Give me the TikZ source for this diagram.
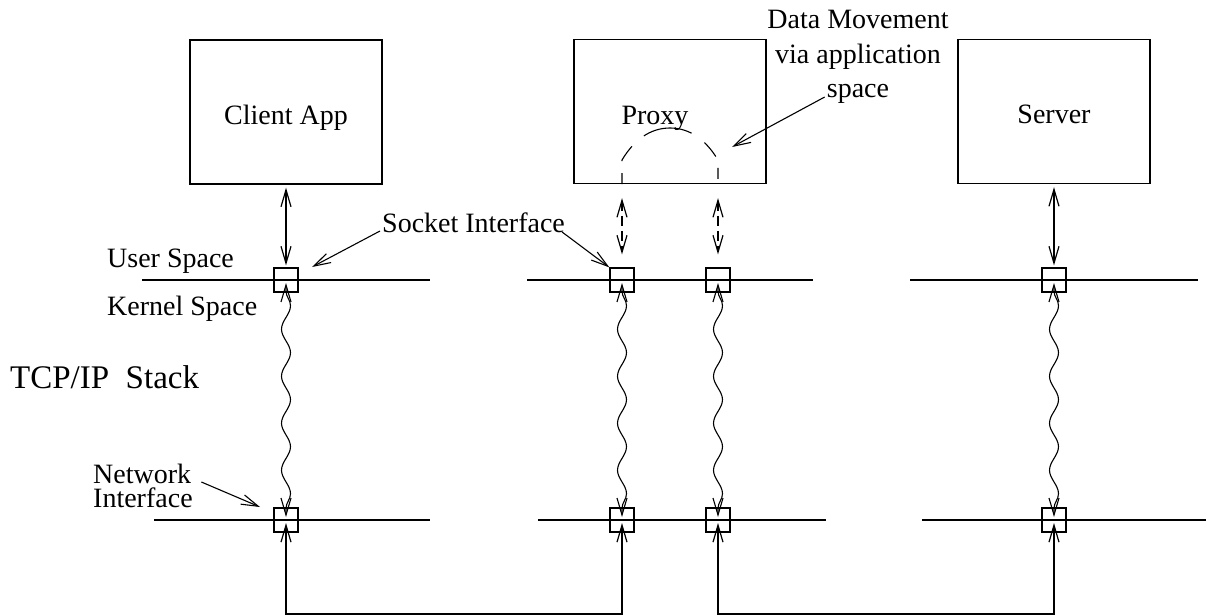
\documentclass[tikz,border=0pt]{standalone}
\usepackage{fontspec}
\setmainfont{Liberation Serif}
\usetikzlibrary{arrows.meta,decorations.pathmorphing}
\begin{document}
\begin{tikzpicture}[x=1pt,y=-1pt,
  >={Straight Barb[length=17pt,width=10pt]},
  lbl/.style={font=\fontsize{28}{28}\selectfont, inner sep=0pt},
  appbox/.style={draw, line width=1.3pt, minimum width=192pt, minimum height=144pt,
     inner sep=0pt, text height=24pt, text depth=0pt, font=\fontsize{28}{28}\selectfont},
  sock/.style={draw, line width=1.2pt, minimum size=24pt, inner sep=0pt},
  layer/.style={line width=1.2pt},
  link/.style={line width=1.2pt, <->},
  note/.style={line width=1.1pt, ->},
  dlink/.style={line width=1.2pt, <->, dash pattern=on 10pt off 5pt},
  wave/.style={line width=1.1pt, <->, decorate,
     decoration={snake, amplitude=4.5pt, segment length=47pt, pre length=8pt, post length=8pt}}
]
\useasboundingbox (0,0) rectangle (1208,616);

% application boxes
\node[appbox] (client) at (286,112) {Client App};
\node[appbox] (proxy) at (670,111.5) {};
\node[appbox] (server) at (1054,111.5) {Server};
\node[lbl, anchor=base] (proxylbl) at (655,124) {Proxy};

% layer lines
\draw[layer] (142,280) -- (430,280);
\draw[layer] (527,280) -- (813,280);
\draw[layer] (910,280) -- (1198,280);
\draw[layer] (154,520) -- (430,520);
\draw[layer] (538,520) -- (826,520);
\draw[layer] (922,520) -- (1206,520);

% sockets
\node[sock] (cu) at (286,280) {};
\node[sock] (cl) at (286,520) {};
\node[sock] (pu1) at (622,280) {};
\node[sock] (pl1) at (622,520) {};
\node[sock] (pu2) at (718,280) {};
\node[sock] (pl2) at (718,520) {};
\node[sock] (su) at (1054,280) {};
\node[sock] (sl) at (1054,520) {};

% app <-> socket
\draw[link, shorten <=3pt, shorten >=2pt] (client.south) -- (cu.north);
\draw[link, shorten <=3pt, shorten >=2pt] (server.south) -- (su.north);
\draw[dlink, shorten <=14pt, shorten >=13pt] (pu1.north |- proxy.south) -- (pu1.north);
\draw[dlink, shorten <=14pt, shorten >=13pt] (pu2.north |- proxy.south) -- (pu2.north);

% data movement via application space
\draw[line width=1.1pt, dash pattern=on 11pt off 12pt on 18pt off 16pt on 50pt off 16pt on 18pt off 12pt on 11pt off 30pt]
  (pu1.north |- proxy.south) -- (622,160)
  .. controls (634,140) and (650,128) .. (670,128)
  .. controls (690,128) and (706,140) .. (718,160)
  -- (pu2.north |- proxy.south);

% TCP/IP stack (wavy)
\draw[wave] ([yshift=-3pt]cu.center) -- ([yshift=3pt]cl.center);
\draw[wave] ([yshift=-3pt]pu1.center) -- ([yshift=3pt]pl1.center);
\draw[wave] ([yshift=-3pt]pu2.center) -- ([yshift=3pt]pl2.center);
\draw[wave] ([yshift=-3pt]su.center) -- ([yshift=3pt]sl.center);

% network links
\coordinate (netbase) at (0,614);
\draw[link] ([yshift=-3pt]cl.center) -- (cl.center |- netbase) -- (pl1.center |- netbase) -- ([yshift=-3pt]pl1.center);
\draw[link] ([yshift=-3pt]pl2.center) -- (pl2.center |- netbase) -- (sl.center |- netbase) -- ([yshift=-3pt]sl.center);

% labels
\node[lbl, anchor=base west] (us) at (107,267) {User Space};
\node[lbl, anchor=base west] (ks) at (107,315) {Kernel Space};
\node[lbl, font=\fontsize{33}{33}\selectfont, anchor=base west] (tcp) at (10,388) {TCP/IP\ \ Stack};
\node[lbl, anchor=base west] (nw1) at (93,483) {Network};
\node[lbl, anchor=base west] (nw2) at (93,507) {Interface};
\node[lbl, anchor=base west] (si) at (382,232) {Socket Interface};
\node[lbl, anchor=base] (dm1) at (858,28) {Data Movement};
\node[lbl, anchor=base] (dm2) at (858,63) {via application};
\node[lbl, anchor=base] (dm3) at (858,97) {space};

% annotation arrows
\coordinate (siTip) at (312,267);
\coordinate (nwTip) at (260,507);
\coordinate (dmTip) at (732,147);
\draw[note] ([xshift=-2pt,yshift=1pt]si.base west) -- (siTip);
\draw[note] ([xshift=-3pt]si.base east) -- (pu1.north west);
\draw[note] ([xshift=10pt,yshift=1pt]nw1.base east) -- (nwTip);
\draw[note] ([xshift=-2pt]dm3.base west) -- (dmTip);
\end{tikzpicture}
\end{document}
